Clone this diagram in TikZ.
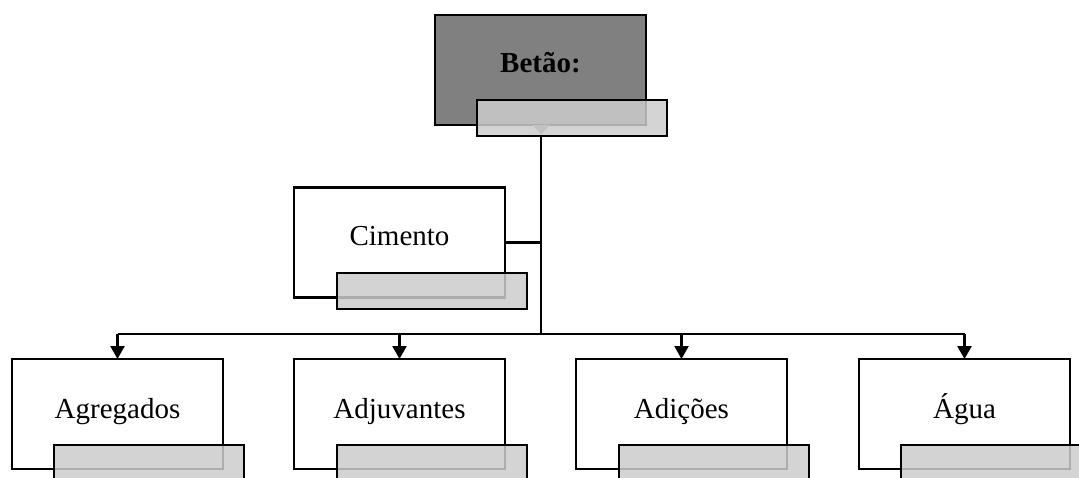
\documentclass[tikz,border=0pt]{standalone}
\usepackage{fontspec}
\setmainfont{Liberation Serif}
\usetikzlibrary{arrows.meta}
\tikzset{
  x=1pt, y=-1pt,
  box/.style={draw=black, line width=2.4pt, fill=white, minimum width=211pt, minimum height=110pt, inner sep=0pt, outer sep=0pt},
  topbox/.style={box, fill=black!50},
  tab/.style={draw=black, line width=2pt, fill=black!20, fill opacity=0.85, minimum width=190pt, minimum height=36pt, inner sep=0pt, outer sep=0pt},
  lbl/.style={font=\fontsize{29}{34}\selectfont, inner sep=0pt, anchor=base},
  conn/.style={draw=black, line width=2.4pt},
  arr/.style={conn, -{Triangle[length=13pt,width=14pt]}},
}
\begin{document}
\begin{tikzpicture}
\useasboundingbox (0,0) rectangle (1079,477);
\clip (0,0) rectangle (1079,477);

% root box
\node[topbox] (root) at (540.5,70) {};
\node[lbl, font=\fontsize{29}{34}\selectfont\bfseries] (roottxt) at (540.5,72) {Betão:};
\fill[black!45] (532,125) -- (550,125) -- (541,134) -- cycle;
\node[tab] (roottab) at (572,118) {};

% Cimento
\node[box] (cim) at (399.5,242.5) {};
\node[lbl] (cimtxt) at (399.5,245) {Cimento};
\node[tab] (cimtab) at (431.5,291) {};

% lower row
\node[box] (agr) at (117.5,414) {};
\node[lbl] (agrtxt) at (117.5,418) {Agregados};
\node[tab] (agrtab) at (149,463) {};

\node[box] (adj) at (399.5,414) {};
\node[lbl] (adjtxt) at (399.5,418) {Adjuvantes};
\node[tab] (adjtab) at (431.5,463) {};

\node[box] (adi) at (681.5,414) {};
\node[lbl] (aditxt) at (681.5,418) {Adições};
\node[tab] (aditab) at (713.5,463) {};

\node[box] (agu) at (964.5,414) {};
\node[lbl] (agutxt) at (964.5,418) {Água};
\node[tab] (agutab) at (996,463) {};

% connectors
\coordinate (hub) at (541,334);
\draw[conn] (541,136) -- (hub);
\draw[conn] (cim.east) -- (cim.east -| hub);
\draw[conn] (117.5,334) -- (964.5,334);
\draw[arr] (117.5,334) -- (agr.north);
\draw[arr] (399.5,334) -- (adj.north);
\draw[arr] (681.5,334) -- (adi.north);
\draw[arr] (964.5,334) -- (agu.north);
\end{tikzpicture}
\end{document}
